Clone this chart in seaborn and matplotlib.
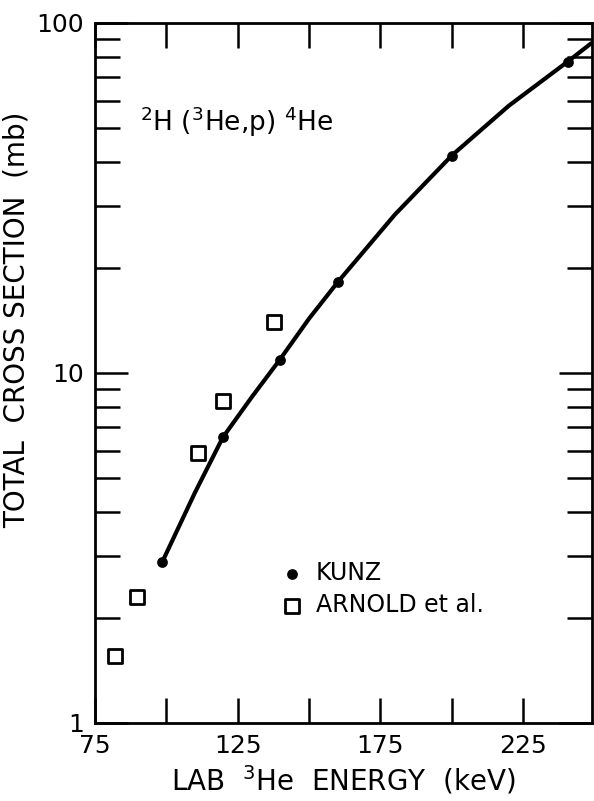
import numpy as np
import pandas as pd
import seaborn as sns
import matplotlib.pyplot as plt
from matplotlib.ticker import FixedLocator, LogLocator, NullFormatter, FixedFormatter

# --- DATA ---
kunz_energy = [98.6, 119.8, 139.7, 160.1, 200.0, 240.6]
kunz_sigma = [2.89, 6.55, 10.9, 18.2, 41.8, 77.5]

arnold_energy = [81.9, 89.8, 111.1, 119.8, 137.7]
arnold_sigma = [1.55, 2.29, 5.90, 8.34, 13.96]

# smooth curve drawn through the Kunz points
curve_energy = [98.6, 110, 119.8, 130, 139.7, 150, 160.1, 180, 200, 220, 240.6, 248.9]
curve_sigma = [2.89, 4.55, 6.55, 8.55, 10.9, 14.3, 18.2, 28.3, 41.8, 58.0, 77.5, 87.5]

x_ticks = [75, 100, 125, 150, 175, 200, 225]
x_labels = ['75', '', '125', '', '175', '', '225']
y_labels = {1: '1', 10: '10', 100: '100'}

kunz = pd.DataFrame({'E': kunz_energy, 'sigma': kunz_sigma})
arnold = pd.DataFrame({'E': arnold_energy, 'sigma': arnold_sigma})
curve = pd.DataFrame({'E': curve_energy, 'sigma': curve_sigma})

# --- PLOT ---
sns.set_theme(style="ticks", rc={'text.color': 'black', 'axes.labelcolor': 'black',
                                  'xtick.color': 'black', 'ytick.color': 'black'})
plt.rcParams['font.family'] = ['DejaVu Sans']

fig = plt.figure(figsize=(5.94, 8.01), dpi=100)
ax = fig.add_axes([0.160, 0.0974, 0.836, 0.874])

sns.lineplot(data=curve, x='E', y='sigma', color='black', linewidth=3.0, ax=ax,
             sort=False, legend=False)
sns.scatterplot(data=kunz, x='E', y='sigma', marker='o', s=60, color='black',
                edgecolor='black', linewidth=0, ax=ax, label='KUNZ', zorder=5)
sns.scatterplot(data=arnold, x='E', y='sigma', marker='s', s=90, facecolor='white',
                edgecolor='black', linewidth=2.0, ax=ax, label='ARNOLD et al.', zorder=5)

ax.set_yscale('log')
ax.set_xlim(75, 249)
ax.set_ylim(1, 100)

ax.xaxis.set_major_locator(FixedLocator(x_ticks))
ax.xaxis.set_major_formatter(FixedFormatter(x_labels))
ax.yaxis.set_major_locator(FixedLocator(list(y_labels.keys())))
ax.yaxis.set_major_formatter(FixedFormatter(list(y_labels.values())))
ax.yaxis.set_minor_locator(LogLocator(base=10, subs=np.arange(2, 10)))
ax.yaxis.set_minor_formatter(NullFormatter())

ax.tick_params(axis='both', which='both', direction='in', top=True, right=True,
               width=1.8, color='black', labelsize=18, pad=8)
ax.tick_params(axis='x', which='major', length=18)
ax.tick_params(axis='y', which='major', length=24)
ax.tick_params(axis='y', which='minor', length=18)

for sp in ax.spines.values():
    sp.set_linewidth(2.0)
    sp.set_color('black')

ax.set_xlabel(r'LAB  $^{3}$He  ENERGY  (keV)', fontsize=20, labelpad=4)
ax.set_ylabel('TOTAL  CROSS SECTION  (mb)', fontsize=20)
ax.yaxis.set_label_coords(-0.13, 0.576)

ax.text(0.09, 0.859, r'$^{2}$H ($^{3}$He,p) $^{4}$He', transform=ax.transAxes,
        fontsize=19, ha='left', va='center')

ax.legend(loc='upper left', bbox_to_anchor=(0.33, 0.245), frameon=False, fontsize=17,
          handletextpad=0.0, labelspacing=0.35, borderaxespad=0)

plt.savefig('out.png', dpi=100)
